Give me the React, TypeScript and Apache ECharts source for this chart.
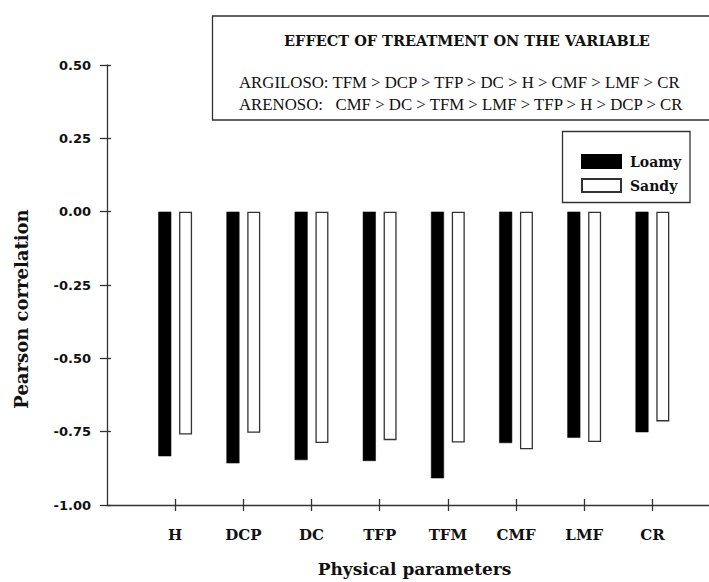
import React, { useEffect, useRef } from "react";
import * as echarts from "echarts";

const categories = ["H", "DCP", "DC", "TFP", "TFM", "CMF", "LMF", "CR"];
const loamy = [-0.834, -0.858, -0.847, -0.85, -0.909, -0.789, -0.771, -0.752];
const sandy = [-0.76, -0.754, -0.789, -0.779, -0.787, -0.81, -0.785, -0.715];
const yTicks = [0.5, 0.25, 0, -0.25, -0.5, -0.75, -1.0];
const boxTitle = "EFFECT OF TREATMENT ON THE VARIABLE";
const boxLine1 = "ARGILOSO: TFM > DCP > TFP > DC > H > CMF > LMF > CR";
const boxLine2 = "ARENOSO:   CMF > DC > TFM > LMF > TFP > H > DCP > CR";

const SERIF = "'DejaVu Serif', 'Liberation Serif', serif";
const SANS = "'DejaVu Sans', sans-serif";

export default function App() {
  const ref = useRef<HTMLDivElement>(null);
  useEffect(() => {
    if (!ref.current) return;
    const chart = echarts.init(ref.current, null, { renderer: "svg" });
    const positions = categories.map((_, i) => i + 1);
    const option: any = {
      animation: false,
      backgroundColor: "#fff",
      grid: { left: 107, right: 0, top: 65, bottom: 76, containLabel: false },
      legend: {
        orient: "vertical",
        left: 576,
        top: 149,
        itemWidth: 39,
        itemHeight: 13,
        itemGap: 9,
        icon: "rect",
        data: ["Loamy", "Sandy"],
        textStyle: {
          fontFamily: SERIF,
          fontWeight: "bold",
          fontSize: 14,
          color: "#111",
          padding: [0, 0, 0, 4],
        },
      },
      xAxis: [
        {
          type: "value",
          position: "bottom",
          min: 0,
          max: 8.83,
          interval: 1,
          splitLine: { show: false },
          axisLine: { show: true, onZero: false, lineStyle: { color: "#333", width: 1.3 } },
          axisTick: {
            show: true,
            length: 6,
            customValues: positions,
            lineStyle: { color: "#333", width: 1.3 },
          },
          axisLabel: {
            show: true,
            customValues: positions,
            margin: 22,
            formatter: (v: number) => categories[Math.round(v) - 1] ?? "",
            fontFamily: SERIF,
            fontWeight: "bold",
            fontSize: 15,
            color: "#111",
          },
          name: "Physical parameters",
          nameLocation: "middle",
          nameGap: 55,
          nameTextStyle: {
            fontFamily: SERIF,
            fontWeight: "bold",
            fontSize: 17,
            color: "#111",
            padding: [0, 0, 0, 13],
          },
        },
        {
          type: "value",
          position: "bottom",
          min: 0,
          max: 8.83,
          interval: 1,
          splitLine: { show: false },
          axisLine: { show: false, onZero: false },
          axisTick: {
            show: true,
            inside: true,
            length: 6,
            customValues: positions,
            lineStyle: { color: "#333", width: 1.3 },
          },
          axisLabel: { show: false },
        },
      ],
      yAxis: [
        {
          type: "value",
          position: "left",
          min: -1,
          max: 0.5,
          interval: 0.25,
          splitLine: { show: false },
          axisLine: { show: true, onZero: false, lineStyle: { color: "#333", width: 1.3 } },
          axisTick: { show: true, length: 7, lineStyle: { color: "#333", width: 1.3 } },
          axisLabel: {
            margin: 16,
            formatter: (v: number) => v.toFixed(2),
            fontFamily: SANS,
            fontWeight: "bold",
            fontSize: 13,
            color: "#111",
          },
        },
        {
          type: "value",
          position: "left",
          min: -1,
          max: 0.5,
          interval: 0.25,
          splitLine: { show: false },
          axisLine: { show: false, onZero: false },
          axisTick: { show: true, inside: true, length: 4, lineStyle: { color: "#333", width: 1.3 } },
          axisLabel: { show: false },
        },
      ],
      series: [
        {
          name: "Loamy",
          type: "bar",
          xAxisIndex: 0,
          yAxisIndex: 0,
          barWidth: 13,
          barGap: "60%",
          itemStyle: { color: "#000", borderColor: "#000", borderWidth: 0.5 },
          data: loamy.map((v, i) => [positions[i], v]),
        },
        {
          name: "Sandy",
          type: "bar",
          xAxisIndex: 0,
          yAxisIndex: 0,
          barWidth: 13,
          barGap: "60%",
          itemStyle: { color: "#fff", borderColor: "#333", borderWidth: 1.3 },
          data: sandy.map((v, i) => [positions[i], v]),
        },
      ],
      graphic: [
        {
          type: "rect",
          z: -1,
          shape: { x: 212.5, y: 16, width: 520, height: 104 },
          style: { fill: "#fff", stroke: "#333", lineWidth: 1.3 },
        },
        {
          type: "text",
          x: 467,
          y: 40,
          style: {
            text: boxTitle,
            fontFamily: SERIF,
            fontWeight: "bold",
            fontSize: 14.5,
            fill: "#111",
            textAlign: "center",
            textVerticalAlign: "middle",
          },
        },
        {
          type: "text",
          x: 239,
          y: 82,
          style: {
            text: boxLine1,
            fontFamily: "'Liberation Serif', serif",
            fontSize: 16.8,
            fill: "#111",
            textAlign: "left",
            textVerticalAlign: "middle",
          },
        },
        {
          type: "text",
          x: 239,
          y: 104,
          style: {
            text: boxLine2,
            fontFamily: "'Liberation Serif', serif",
            fontSize: 16.8,
            fill: "#111",
            textAlign: "left",
            textVerticalAlign: "middle",
          },
        },
        {
          type: "rect",
          z: -1,
          shape: { x: 562.5, y: 131.5, width: 127.5, height: 71 },
          style: { fill: "#fff", stroke: "#333", lineWidth: 1.3 },
        },
        {
          type: "text",
          x: 21,
          y: 309,
          rotation: Math.PI / 2,
          style: {
            text: "Pearson correlation",
            fontFamily: SERIF,
            fontWeight: "bold",
            fontSize: 18,
            fill: "#111",
            textAlign: "center",
            textVerticalAlign: "middle",
          },
        },
      ],
    };
    chart.setOption(option);
    return () => chart.dispose();
  }, []);
  return (
    <div
      ref={ref}
      style={{ position: "absolute", left: 0, top: 0, width: 709, height: 582 }}
    />
  );
}
